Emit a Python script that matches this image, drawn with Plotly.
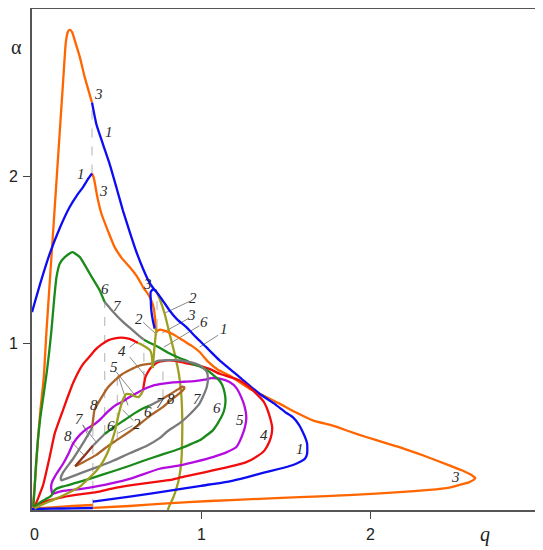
import plotly.graph_objects as go

# ---------------- curve 1 (blue) ----------------
blue_upper_q = [0.355,0.381,0.42,0.46,0.50,0.539,0.58,0.618,0.657,0.696,0.728,0.745,0.78,0.814,0.86,0.913,0.97,1.031,1.11,1.228,1.346,1.43,1.50,1.543,1.58,1.602,1.618,1.628,1.628,1.615,1.59,1.563,1.52,1.465,1.366,1.269,1.169,1.0,0.845,0.578,0.36]
blue_upper_a = [2.44,2.31,2.19,2.07,1.93,1.79,1.66,1.545,1.445,1.36,1.315,1.295,1.245,1.195,1.14,1.095,1.035,0.975,0.896,0.796,0.696,0.64,0.585,0.556,0.51,0.467,0.43,0.397,0.337,0.307,0.29,0.277,0.262,0.247,0.222,0.196,0.172,0.145,0.12,0.08,0.05]
blue_hook_q = [0.735,0.716,0.702,0.703,0.706,0.716,0.726]
blue_hook_a = [1.31,1.322,1.305,1.25,1.195,1.13,1.086]
blue_left_q = [0.0,0.05,0.105,0.165,0.223,0.27,0.302,0.33,0.355]
blue_left_a = [1.185,1.36,1.535,1.69,1.814,1.89,1.934,1.98,2.015]
blue_bottom_q = [0.0,0.12,0.24,0.36]
blue_bottom_a = [0.006,0.008,0.01,0.012]

# ---------------- curve 3 (orange) ----------------
orange_peak_q = [0.005,0.02,0.035,0.05,0.07,0.086,0.11,0.135,0.16,0.185,0.2,0.212,0.223,0.238,0.253,0.283,0.312,0.355]
orange_peak_a = [0.015,0.2,0.42,0.6,0.8,1.076,1.44,1.82,2.2,2.58,2.8,2.862,2.876,2.86,2.812,2.712,2.592,2.44]
orange_tail_q = [0.355,0.362,0.371,0.38,0.391,0.411,0.45,0.489,0.53,0.578,0.62,0.657,0.685,0.706,0.72,0.728,0.732,0.736,0.745,0.76,0.795,0.84,0.893,0.95,0.992,1.04,1.1,1.169,1.22,1.287,1.38,1.465,1.56,1.661,1.78,1.88,1.977,2.08,2.174,2.32,2.469,2.55,2.59,2.613,2.623,2.613,2.588,2.53,2.469,2.35,2.174,1.9,1.583,1.3,1.052,0.8,0.578,0.36]
orange_tail_a = [2.015,2.0,1.964,1.91,1.854,1.774,1.67,1.574,1.51,1.455,1.40,1.335,1.295,1.255,1.21,1.15,1.086,1.065,1.075,1.08,1.07,1.05,1.016,0.98,0.946,0.89,0.84,0.806,0.77,0.726,0.68,0.637,0.585,0.537,0.505,0.47,0.437,0.405,0.377,0.325,0.267,0.235,0.215,0.2,0.191,0.18,0.167,0.15,0.134,0.12,0.107,0.09,0.077,0.065,0.054,0.04,0.024,0.013]
orange_low_q = [0.0,0.12,0.24,0.36]
orange_low_a = [0.008,0.016,0.024,0.03]

# ---------------- curve 6 (green) ----------------
green_upper_q = [0.008,0.015,0.022,0.035,0.05,0.07,0.088,0.102,0.115,0.13,0.145,0.164,0.194,0.239,0.283,0.342,0.401,0.43]
green_upper_a = [0.02,0.12,0.25,0.42,0.56,0.70,0.83,0.95,1.075,1.25,1.395,1.475,1.514,1.544,1.514,1.415,1.315,1.245]
green_right_q = [0.662,0.70,0.75,0.80,0.873,0.913,0.95,0.992,1.04,1.07,1.10,1.125,1.14,1.145,1.14,1.13,1.10,1.07,1.03,0.992,0.93,0.874,0.755,0.66,0.578,0.48,0.381,0.28,0.184,0.145,0.128,0.115,0.09,0.066,0.04,0.025,0.012]
green_right_a = [1.02,1.0,0.975,0.945,0.91,0.895,0.875,0.86,0.835,0.81,0.785,0.75,0.70,0.656,0.61,0.577,0.52,0.477,0.445,0.417,0.39,0.367,0.327,0.295,0.265,0.232,0.2,0.168,0.141,0.127,0.112,0.087,0.07,0.057,0.04,0.028,0.018]
green_inner_q = [0.696,0.65,0.608,0.55,0.489,0.43]
green_inner_a = [0.625,0.605,0.58,0.54,0.50,0.455]

# ---------------- curve 4 (red) ----------------
red_left_q = [0.017,0.04,0.066,0.105,0.135,0.184,0.243,0.30,0.342,0.371,0.41,0.45,0.49,0.529,0.565,0.598,0.627]
red_left_a = [0.022,0.08,0.15,0.32,0.46,0.6,0.76,0.87,0.92,0.956,0.99,1.016,1.028,1.032,1.027,1.016,1.0]
red_right_q = [0.657,0.663,0.671,0.686,0.702,0.714,0.73,0.755,0.805,0.864,0.923,0.982,1.05,1.11,1.17,1.229,1.28,1.327,1.37,1.395,1.412,1.421,1.418,1.405,1.376,1.33,1.268,1.17,1.07,0.97,0.90,0.86,0.82,0.755,0.6,0.48,0.381,0.28,0.184,0.12,0.066,0.035,0.017]
red_right_a = [0.716,0.756,0.796,0.826,0.85,0.862,0.876,0.888,0.896,0.89,0.876,0.866,0.845,0.816,0.797,0.776,0.74,0.697,0.65,0.596,0.54,0.497,0.455,0.41,0.357,0.32,0.287,0.26,0.237,0.215,0.2,0.19,0.18,0.172,0.15,0.13,0.107,0.093,0.077,0.062,0.047,0.032,0.022]

# ---------------- curve 5 (magenta) ----------------
magenta_q = [0.12,0.113,0.118,0.135,0.16,0.184,0.215,0.243,0.283,0.33,0.371,0.401,0.45,0.499,0.529,0.568,0.62,0.667,0.716,0.765,0.834,0.9,0.962,1.021,1.061,1.11,1.169,1.21,1.238,1.258,1.268,1.265,1.248,1.209,1.15,1.07,0.97,0.873,0.755,0.578,0.381,0.283,0.184,0.14,0.125,0.12]
magenta_a = [0.097,0.137,0.165,0.2,0.24,0.277,0.335,0.397,0.45,0.49,0.515,0.54,0.59,0.63,0.645,0.67,0.7,0.726,0.745,0.755,0.764,0.768,0.772,0.78,0.79,0.786,0.766,0.73,0.676,0.62,0.56,0.52,0.457,0.377,0.345,0.317,0.29,0.267,0.247,0.187,0.141,0.125,0.115,0.103,0.097,0.097]

# ---------------- curve 7 (gray) ----------------
gray_top_q = [0.43,0.46,0.50,0.54,0.58,0.62,0.662]
gray_top_a = [1.245,1.21,1.165,1.125,1.09,1.055,1.02]
gray_loop_q = [0.706,0.745,0.80,0.844,0.90,0.943,0.985,1.015,1.035,1.041,1.035,1.025,1.01,0.99,0.96,0.92,0.874,0.80,0.755,0.68,0.578,0.48,0.381,0.30,0.223,0.19,0.174,0.17,0.184,0.243,0.302,0.355]
gray_loop_a = [0.876,0.893,0.897,0.897,0.892,0.884,0.87,0.85,0.826,0.786,0.74,0.71,0.675,0.635,0.6,0.56,0.52,0.47,0.43,0.385,0.34,0.295,0.255,0.225,0.195,0.183,0.178,0.19,0.225,0.307,0.40,0.49]
gray_inner_q = [0.775,0.74,0.696]
gray_inner_a = [0.668,0.648,0.625]
gray_inner2_q = [0.43,0.40,0.36]
gray_inner2_a = [0.455,0.425,0.385]

# ---------------- curve 8 (brown) ----------------
brown_arc_q = [0.355,0.362,0.37,0.40,0.45,0.50,0.529,0.578,0.627,0.67,0.706]
brown_arc_a = [0.49,0.545,0.6,0.655,0.735,0.785,0.81,0.838,0.862,0.872,0.876]
brown_lower_q = [0.255,0.30,0.381,0.43,0.489,0.578,0.638,0.70,0.765,0.803,0.85,0.896,0.905]
brown_lower_a = [0.262,0.285,0.33,0.368,0.41,0.47,0.515,0.565,0.61,0.641,0.68,0.72,0.735]
brown_upper_q = [0.905,0.89,0.86,0.82,0.775]
brown_upper_a = [0.735,0.738,0.72,0.695,0.668]
brown_tip_q = [0.36,0.31,0.28,0.255]
brown_tip_a = [0.385,0.325,0.29,0.262]

# ---------------- curve 2 (olive) ----------------
olive_long_q = [0.73,0.755,0.785,0.814,0.844,0.869,0.883,0.889,0.889,0.884,0.872,0.855,0.834,0.815,0.803]
olive_long_a = [1.32,1.265,1.175,1.056,0.936,0.816,0.696,0.556,0.45,0.297,0.2,0.13,0.07,0.03,0.0]
olive_inner_q = [0.015,0.046,0.105,0.184,0.283,0.381,0.42,0.45,0.475,0.495,0.51,0.525,0.54,0.558,0.585,0.61,0.63,0.647,0.657]
olive_inner_a = [0.008,0.025,0.052,0.087,0.14,0.235,0.29,0.35,0.42,0.49,0.56,0.62,0.665,0.695,0.692,0.68,0.676,0.696,0.716]
olive_four_q = [0.627,0.65,0.675,0.698,0.708,0.712,0.714]
olive_four_a = [1.0,0.99,0.975,0.957,0.93,0.89,0.85]
olive_stem_q = [0.736,0.731,0.726,0.721,0.717,0.714]
olive_stem_a = [1.09,1.04,0.99,0.93,0.88,0.85]

# ---------------- dashed connectors ----------------
dash_q = [0.355, 0.36, 0.43, 0.505, 0.662, 0.74, 0.775]
dash_lo = [2.015, 0.012, 0.455, 0.42, 0.78, 1.09, 0.668]
dash_hi = [2.44, 0.49, 1.245, 0.79, 1.0, 1.31, 0.89]

# ---------------- curve number labels ----------------
label_text = ["3","1","1","3","6","7","3","2","2","3","6","1","4","5","8","7","8","6","2","6","7","8","7","6","5","4","1","3"]
label_q = [0.395,0.455,0.29,0.426,0.431,0.507,0.685,0.954,0.631,0.944,1.017,1.135,0.535,0.485,0.364,0.282,0.213,0.468,0.62,0.689,0.762,0.824,0.979,1.093,1.228,1.373,1.584,2.507]
label_a = [2.494,2.263,2.013,1.912,1.324,1.223,1.351,1.271,1.145,1.166,1.128,1.086,0.95,0.858,0.63,0.542,0.441,0.504,0.515,0.588,0.641,0.666,0.662,0.609,0.536,0.452,0.368,0.2]

# leader lines: start q, start a, end q, end a
leader_q0 = [0.934,0.658,0.923,0.99,1.10,0.578,0.578,0.499,0.509,0.30,0.30,0.233,0.60,0.595]
leader_a0 = [1.25,1.124,1.145,1.103,1.046,0.974,0.916,0.826,0.806,0.51,0.51,0.41,0.535,0.505]
leader_q1 = [0.787,0.733,0.772,0.78,0.992,0.625,0.677,0.618,0.568,0.335,0.385,0.305,0.535,0.51]
leader_a1 = [1.18,1.055,1.061,0.975,0.976,1.012,0.796,0.676,0.626,0.44,0.40,0.33,0.60,0.46]

# axis tick labels
x_tick_vals = [0, 1, 2]
x_tick_text = ["0", "1", "2"]
y_tick_vals = [1, 2]
y_tick_text = ["1", "2"]

BLUE = "#0d0df2"
ORANGE = "#ff6600"
GREEN = "#1a8a1a"
RED = "#f20d0d"
MAGENTA = "#b20ce0"
GRAY = "#7a7a7a"
BROWN = "#ad6428"
DARKBROWN = "#8c3420"
OLIVE = "#9e9e20"

fig = go.Figure()


def add_line(q, a, color, width=2.3, dash=None, smooth=True):
    line = dict(color=color, width=width)
    if dash:
        line["dash"] = dash
    if smooth:
        line["shape"] = "spline"
        line["smoothing"] = 0.5
    fig.add_trace(go.Scatter(x=q, y=a, mode="lines", line=line,
                             hoverinfo="skip", showlegend=False))


for xq, lo, hi in zip(dash_q, dash_lo, dash_hi):
    add_line([xq, xq], [lo, hi], "#c4c4c4", width=1.3, dash="dash", smooth=False)

for x0, y0, x1, y1 in zip(leader_q0, leader_a0, leader_q1, leader_a1):
    add_line([x0, x1], [y0, y1], "#6a6a6a", width=0.8, smooth=False)

add_line(olive_long_q, olive_long_a, OLIVE)
add_line(orange_tail_q, orange_tail_a, ORANGE)
add_line(orange_peak_q, orange_peak_a, ORANGE)
add_line(orange_low_q, orange_low_a, ORANGE)
add_line(blue_upper_q, blue_upper_a, BLUE)
add_line(blue_hook_q, blue_hook_a, BLUE)
add_line(blue_left_q, blue_left_a, BLUE)
add_line(blue_bottom_q, blue_bottom_a, BLUE)
add_line(red_left_q, red_left_a, RED)
add_line(red_right_q, red_right_a, RED)
add_line(magenta_q, magenta_a, MAGENTA)
add_line(green_upper_q, green_upper_a, GREEN)
add_line(green_right_q, green_right_a, GREEN)
add_line(green_inner_q, green_inner_a, GREEN)
add_line(gray_top_q, gray_top_a, GRAY)
add_line(gray_loop_q, gray_loop_a, GRAY)
add_line(gray_inner_q, gray_inner_a, GRAY)
add_line(gray_inner2_q, gray_inner2_a, GRAY)
add_line(brown_arc_q, brown_arc_a, BROWN)
add_line(brown_lower_q, brown_lower_a, BROWN)
add_line(brown_upper_q, brown_upper_a, BROWN)
add_line(brown_tip_q, brown_tip_a, DARKBROWN)
add_line(olive_inner_q, olive_inner_a, OLIVE)
add_line(olive_four_q, olive_four_a, OLIVE)
add_line(olive_stem_q, olive_stem_a, OLIVE)

TICKFONT = dict(family="Liberation Sans", size=16, color="#222222")
annotations = []
for t, xq, ya in zip(label_text, label_q, label_a):
    annotations.append(dict(x=xq, y=ya, xref="x", yref="y", text="<i>" + t + "</i>", showarrow=False,
                            font=dict(family="Liberation Serif", size=15, color="#2a2a2a"),
                            xanchor="center", yanchor="middle"))
for v, t in zip(x_tick_vals, x_tick_text):
    annotations.append(dict(x=v + (0.012 if v == 0 else 0), y=-0.049, xref="x", yref="paper", text=t,
                            showarrow=False, font=TICKFONT, xanchor="center", yanchor="middle",
                            borderpad=0))
for v, t in zip(y_tick_vals, y_tick_text):
    annotations.append(dict(x=-0.0365, y=v, xref="paper", yref="y", text=t,
                            showarrow=False, font=TICKFONT, xanchor="center", yanchor="middle",
                            borderpad=0))
annotations.append(dict(x=-0.0305, y=2.77, xref="paper", yref="y", text="α", showarrow=False,
                        font=dict(family="Liberation Serif", size=20, color="#222222"),
                        xanchor="center", yanchor="middle", borderpad=0))
annotations.append(dict(x=2.68, y=-0.049, xref="x", yref="paper", text="<i>q</i>", showarrow=False,
                        font=dict(family="Liberation Serif", size=20, color="#222222"),
                        xanchor="center", yanchor="middle"))

# the page body has an 8px default margin, so the figure is sized to fit the window
fig.update_layout(
    width=535, height=542, autosize=False,
    margin=dict(l=24, r=4, t=1, b=40, autoexpand=False),
    paper_bgcolor="white", plot_bgcolor="white",
    annotations=annotations,
    xaxis=dict(range=[0, 3.0], tickvals=[1, 2], ticks="outside", showticklabels=False,
               ticklen=7, tickcolor="#444", tickwidth=1.2, showline=True, mirror=True,
               linecolor="#555", linewidth=1.5, showgrid=False, zeroline=False,
               automargin=False),
    yaxis=dict(range=[0, 3.0], tickvals=[1, 2], ticks="outside", showticklabels=False,
               ticklen=7, tickcolor="#444", tickwidth=1.2, showline=True, mirror=True,
               linecolor="#555", linewidth=1.5, showgrid=False, zeroline=False,
               automargin=False),
)

fig.write_html("out.html")
